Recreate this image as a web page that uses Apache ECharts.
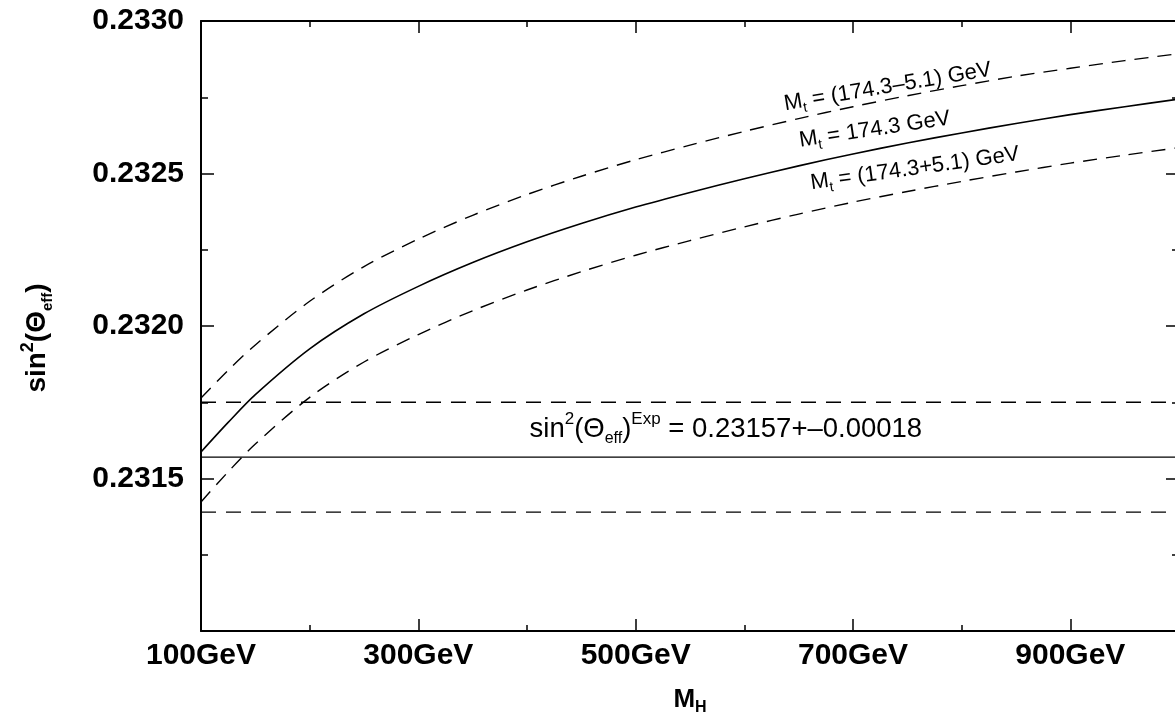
<!DOCTYPE html>
<html>
<head>
<meta charset="utf-8">
<script src="https://cdn.jsdelivr.net/npm/echarts@6/dist/echarts.min.js"></script>
<style>
html,body{margin:0;padding:0;background:#fff;}
#chart{width:1175px;height:719px;}
</style>
</head>
<body>
<div id="chart"></div>
<script>
// ---- data ----
const massH = [100, 125, 150, 200, 250, 300, 350, 400, 450, 500, 550, 600, 650, 700, 750, 800, 850, 900, 950, 1000];
// M_t = 174.3 GeV (solid)
const sinCentral = [0.231587, 0.231684, 0.231775, 0.231925, 0.232040, 0.232130, 0.232208, 0.232276, 0.232336, 0.232390, 0.232438, 0.232483, 0.232525, 0.232564, 0.232600, 0.232633, 0.232664, 0.232693, 0.232719, 0.232744];
// M_t = (174.3-5.1) GeV (upper dashed)
const sinLightTop = [0.231764, 0.231855, 0.231938, 0.232081, 0.232195, 0.232285, 0.232363, 0.232431, 0.232491, 0.232545, 0.232593, 0.232638, 0.232680, 0.232719, 0.232755, 0.232788, 0.232819, 0.232845, 0.232870, 0.232893];
// M_t = (174.3+5.1) GeV (lower dashed)
const sinHeavyTop = [0.231423, 0.231522, 0.231613, 0.231766, 0.231882, 0.231972, 0.232050, 0.232118, 0.232178, 0.232232, 0.232280, 0.232325, 0.232367, 0.232406, 0.232441, 0.232474, 0.232505, 0.232534, 0.232560, 0.232585];
// experimental band
const expRange = [100, 1000];
const expCentral = 0.23157;
const expUpper = 0.23175;
const expLower = 0.23139;
// axis
const xMin = 100, xMax = 1000, xMajor = 200, xMinor = 100;
const yMin = 0.2310, yMax = 0.2330, yMajor = 0.0005;
// annotation texts and anchors (data coordinates)
const annotationTexts = [
  '{n|M}{sub|t}{n| = (174.3–5.1) GeV}',
  '{n|M}{sub|t}{n| = 174.3 GeV}',
  '{n|M}{sub|t}{n| = (174.3+5.1) GeV}',
  '{e|sin}{esup|2}{e|(Θ}{esub|eff}{e|)}{esup|Exp}{e| = 0.23157+–0.00018}'
];
const annotationX = [732, 720, 757, 583];
const annotationY = [0.232784, 0.232644, 0.232516, 0.231662];
const annotationAngle = [9.5, 8.5, 8, 0];

// ---- chart ----
const FONT = '"Liberation Sans", Arial, Helvetica, sans-serif';
const BLACK = '#000';

function xAxisDef(position, interval, tickLen, showLine, showLabel) {
  return {
    type: 'value', position: position, min: xMin, max: xMax, interval: interval,
    axisLine: { show: showLine, onZero: false, lineStyle: { color: BLACK, width: 2 } },
    axisTick: { show: true, inside: true, length: tickLen, lineStyle: { color: BLACK, width: 1.5 } },
    axisLabel: showLabel ? {
      show: true, margin: 10, color: BLACK, fontSize: 30, fontWeight: 'bold', fontFamily: FONT,
      formatter: v => (v === xMax ? '' : v + 'GeV')
    } : { show: false },
    splitLine: { show: false }
  };
}
function yAxisDef(position, showLabel) {
  return {
    type: 'value', position: position, min: yMin, max: yMax, interval: yMajor,
    axisLine: { show: true, onZero: false, lineStyle: { color: BLACK, width: 2 } },
    axisTick: { show: true, inside: true, length: 13, lineStyle: { color: BLACK, width: 1.5 } },
    minorTick: { show: true, splitNumber: 2, length: 7, lineStyle: { color: BLACK, width: 1.5 } },
    minorSplitLine: { show: false },
    axisLabel: showLabel ? {
      show: true, margin: 17, color: BLACK, fontSize: 30, fontWeight: 'bold', fontFamily: FONT,
      formatter: v => (Math.abs(v - yMin) < 1e-9 ? '' : v.toFixed(4))
    } : { show: false },
    splitLine: { show: false }
  };
}

const xAxes = [
  xAxisDef('bottom', xMajor, 12, true, true),
  xAxisDef('bottom', xMinor, 6, false, false),
  xAxisDef('top', xMajor, 12, true, false),
  xAxisDef('top', xMinor, 6, false, false)
];
xAxes[0].name = '{m|M}{s|H}';
xAxes[0].nameLocation = 'middle';
xAxes[0].nameGap = 53;
xAxes[0].nameTextStyle = {
  rich: {
    m: { fontSize: 26, fontWeight: 'bold', fontFamily: FONT, color: BLACK, lineHeight: 32 },
    s: { fontSize: 16, fontWeight: 'bold', fontFamily: FONT, color: BLACK, verticalAlign: 'bottom', lineHeight: 16 }
  }
};

const yAxes = [yAxisDef('left', true), yAxisDef('right', false)];
yAxes[0].name = '{m|sin}{sup|2}{m|(Θ}{sub|eff}{m|)}';
yAxes[0].nameLocation = 'middle';
yAxes[0].nameRotate = 90;
yAxes[0].nameGap = 146;
yAxes[0].nameTextStyle = {
  padding: [0, 24, 0, 0],
  rich: {
    m: { fontSize: 28, fontWeight: 'bold', fontFamily: FONT, color: BLACK, lineHeight: 36 },
    sup: { fontSize: 18, fontWeight: 'bold', fontFamily: FONT, color: BLACK, verticalAlign: 'top', lineHeight: 18 },
    sub: { fontSize: 15, fontWeight: 'bold', fontFamily: FONT, color: BLACK, verticalAlign: 'bottom', lineHeight: 15 }
  }
};

function curve(values, dashed, width) {
  return {
    type: 'line', xAxisIndex: 0, yAxisIndex: 0,
    data: massH.map((m, i) => [m, values[i]]),
    showSymbol: false, symbol: 'none', smooth: 0.3, silent: true,
    lineStyle: { color: BLACK, width: width, type: dashed ? [14, 9] : 'solid' },
    z: 3
  };
}
function hline(v, dashed, width) {
  return {
    type: 'line', xAxisIndex: 0, yAxisIndex: 0,
    data: expRange.map(m => [m, v]),
    showSymbol: false, symbol: 'none', silent: true,
    lineStyle: { color: BLACK, width: width, type: dashed ? [15, 10] : 'solid' },
    z: 3
  };
}

const labelRich = {
  n: { fontSize: 22, fontFamily: FONT, color: BLACK, lineHeight: 28 },
  sub: { fontSize: 14, fontFamily: FONT, color: BLACK, verticalAlign: 'bottom', lineHeight: 14 },
  e: { fontSize: 27.5, fontFamily: FONT, color: BLACK, lineHeight: 36 },
  esup: { fontSize: 17, fontFamily: FONT, color: BLACK, verticalAlign: 'top', lineHeight: 17 },
  esub: { fontSize: 16, fontFamily: FONT, color: BLACK, verticalAlign: 'bottom', lineHeight: 16 }
};

const annotations = {
  type: 'scatter', xAxisIndex: 0, yAxisIndex: 0, symbolSize: 0, silent: true, z: 5,
  itemStyle: { opacity: 1 },
  data: annotationTexts.map((t, i) => ({
    value: [annotationX[i], annotationY[i]],
    label: { show: true, position: 'inside', rotate: annotationAngle[i], formatter: t, rich: labelRich, color: BLACK, opacity: 1 }
  }))
};

const option = {
  animation: false,
  backgroundColor: '#fff',
  grid: { left: 201, width: 978, top: 21, bottom: 88, containLabel: false, outerBoundsMode: 'none' },
  xAxis: xAxes,
  yAxis: yAxes,
  series: [
    curve(sinCentral, false, 1.6),
    curve(sinLightTop, true, 1.4),
    curve(sinHeavyTop, true, 1.4),
    hline(expCentral, false, 1.3),
    hline(expUpper, true, 1.3),
    hline(expLower, true, 1.3),
    annotations
  ]
};

const chart = echarts.init(document.getElementById('chart'), null, { renderer: 'canvas' });
chart.setOption(option);
</script>
</body>
</html>
